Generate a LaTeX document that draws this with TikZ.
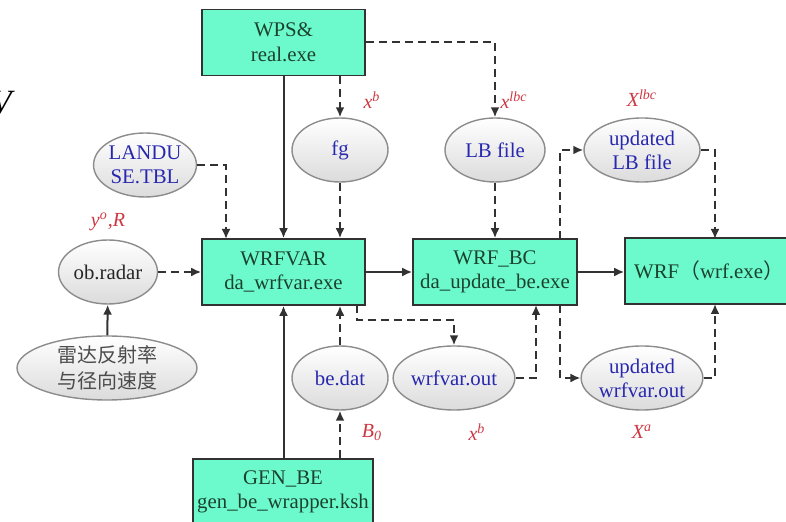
\documentclass[tikz,border=0pt]{standalone}
\usepackage{fontspec}
\setmainfont{Liberation Serif}
\newfontfamily\timesf{Liberation Serif}
\newfontfamily\cjk{Noto Sans CJK SC}
\usetikzlibrary{shapes.geometric, arrows.meta, positioning}

\definecolor{boxgreen}{RGB}{108,250,205}
\definecolor{boxtext}{RGB}{28,66,46}
\definecolor{fileblue}{RGB}{40,40,175}
\definecolor{labelred}{RGB}{205,55,65}
\definecolor{linegray}{RGB}{50,50,50}

\tikzset{
        proc/.style={draw=linegray, line width=0.8pt, fill=boxgreen, text=boxtext, inner sep=0pt,
            align=center, minimum width=81.5pt, minimum height=33pt, font=\timesf\fontsize{10.4}{12.3}\selectfont},
        datafile/.style={ellipse, draw=black!45, line width=0.7pt, top color=white, bottom color=black!14,
            text=fileblue, inner sep=0pt, align=center, minimum height=32pt, font=\timesf\fontsize{10.4}{12}\selectfont},
        var/.style={text=labelred, font=\timesf\fontsize{10}{12}\selectfont\itshape, inner sep=1pt},
        flow/.style={draw=linegray, line width=1pt, -{Latex[length=5pt,width=4.5pt]}},
        dflow/.style={flow, dash pattern=on 4pt off 2.5pt}
}

\begin{document}
\begin{tikzpicture}[x=0.5pt, y=-0.5pt]
        \useasboundingbox (0,0) rectangle (786,522);

        % Programme
        \node[proc] (wps) at (283.5, 42.5) {WPS\&\\real.exe};
        \node[proc] (wrfvar) at (283.5, 272) {WRFVAR\\da\_wrfvar.exe};
        \node[proc, minimum width=82pt] (wrfbc) at (495, 272) {WRF\_BC\\da\_update\_be.exe};
        \node[proc, minimum width=84pt] (wrf) at (709, 271) {WRF{\cjk （}wrf.exe{\cjk ）}};
        \node[proc, minimum width=90pt] (genbe) at (283, 492) {GEN\_BE\\gen\_be\_wrapper.ksh};

        % Dateien
        \node[datafile, minimum width=48pt] (fg) at (340, 150) {fg};
        \node[datafile, minimum width=48pt] (landuse) at (145, 165) {LANDU\\SE.TBL};
        \node[datafile, minimum width=50pt] (lbfile) at (495, 150) {LB file};
        \node[datafile, minimum width=58pt] (updlb) at (642, 150) {updated\\LB file};
        \node[datafile, minimum width=49.5pt, text=black!85] (obradar) at (108, 272) {ob.radar};
        \node[datafile, minimum width=90pt, text=black!70, font=\cjk\fontsize{10}{13}\selectfont] (radar) at (107, 368) {雷达反射率\\与径向速度};
        \node[datafile, minimum width=48pt] (bedat) at (340, 378) {be.dat};
        \node[datafile, minimum width=57.5pt] (wrfout) at (454, 378) {wrfvar.out};
        \node[datafile, minimum width=58pt] (updout) at (642, 378) {updated\\wrfvar.out};

        % Variablen
        \node[var] (vxb) at (372, 100) {x\textsuperscript{b}};
        \node[var] (vxlbc) at (514, 100) {x\textsuperscript{lbc}};
        \node[var] (vXlbc) at (642, 98) {X\textsuperscript{lbc}};
        \node[var] (vyo) at (108, 222) {y\textsuperscript{o},R};
        \node[var] (vb0) at (372, 433) {B\textsubscript{0}};
        \node[var] (vxb2) at (477, 432) {x\textsuperscript{b}};
        \node[var] (vXa) at (642, 432) {X\textsuperscript{a}};
        \node[anchor=east, inner sep=0pt, font=\timesf\fontsize{17}{17}\selectfont\itshape] (cut) at (12, 103) {V};

        % Hilfspunkte
        \coordinate (vartap) at (357, 305);
        \coordinate (bcin) at (536, 305);
        \coordinate (bcdown) at (560, 305);
        \coordinate (bcup) at (560, 239);
        \coordinate (wrftop) at (715, 239);
        \coordinate (wrfbot) at (715, 304);
        \coordinate (landin) at (226, 239);

        % durchgezogene Pfeile
        \draw[flow] (wps) -- (wrfvar);
        \draw[flow] (genbe.north -| wrfvar) -- (wrfvar);
        \draw[flow] (radar) -- (obradar);
        \draw[flow] (wrfvar) -- (wrfbc);
        \draw[flow] (wrfbc) -- (wrf.west |- wrfbc);

        % gestrichelte Pfeile
        \draw[dflow] (wps.south -| fg) -- (fg);
        \draw[dflow] (wps.east) -| (lbfile);
        \draw[dflow] (fg) -- (wrfvar.north -| fg);
        \draw[dflow] (landuse.east) -| (landin);
        \draw[dflow] (obradar) -- (wrfvar.west |- obradar);
        \draw[dflow] (genbe.north -| bedat) -- (bedat);
        \draw[dflow] (bedat) -- (wrfvar.south -| bedat);
        \draw[dflow] (vartap) -- ++(0,15) -| (wrfout);
        \draw[dflow] (wrfout.east) -| (bcin);
        \draw[dflow] (lbfile) -- (wrfbc);
        \draw[dflow] (bcdown) |- (updout.west);
        \draw[dflow] (bcup) |- (updlb.west);
        \draw[dflow] (updlb.east) -| (wrftop);
        \draw[dflow] (updout.east) -| (wrfbot);

\end{tikzpicture}
\end{document}
